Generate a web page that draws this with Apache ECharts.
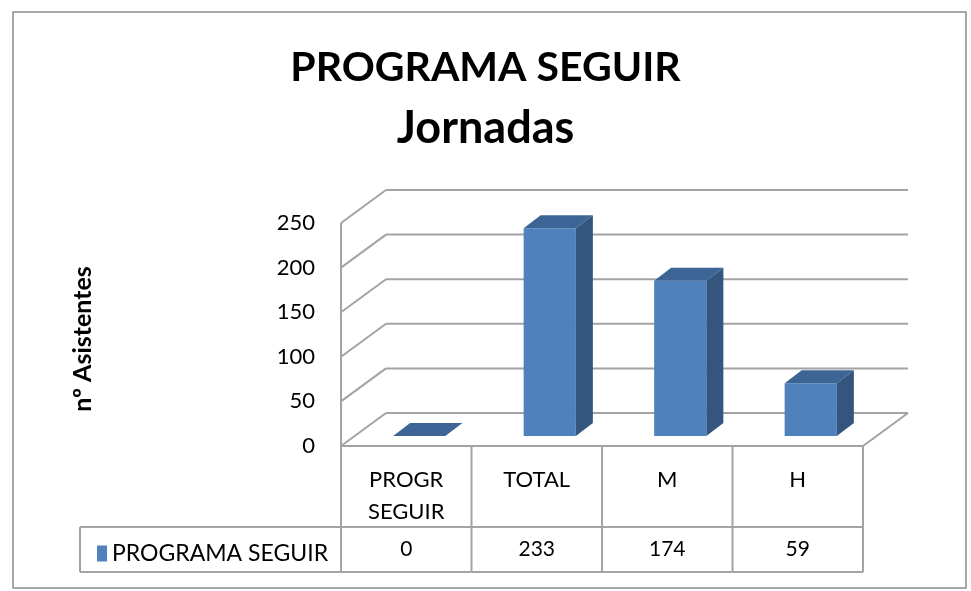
<!DOCTYPE html>
<html>
<head>
<meta charset="utf-8">
<script src="https://cdn.jsdelivr.net/npm/echarts@6/dist/echarts.min.js"></script>
<style>
  html, body { margin: 0; padding: 0; background: #fff; }
  #chart { width: 971px; height: 591px; }
</style>
</head>
<body>
<div id="chart"></div>
<script>
// Chart data
const categories = ['PROGR\nSEGUIR', 'TOTAL', 'M', 'H'];
const seriesName = 'PROGRAMA SEGUIR';
const values = [0, 233, 174, 59];
const yTicks = [0, 50, 100, 150, 200, 250];

const FONT = 'Lato';
const LINE = '#a3a3a3';
const DEPTH = [45, -33];      // floor: front edge -> back wall
const BAR_OFF = [13, -10];    // bar front face sits a bit behind the front edge
const BAR_DEPTH = [17, -13];
const HEADER_H = 81;          // data table: category row
const ROW_H = 45;             // data table: value row
const LEGEND_LEFT = 80;

const chart = echarts.init(document.getElementById('chart'));

function line(x1, y1, x2, y2) {
  return {
    type: 'line',
    shape: { x1: x1, y1: y1, x2: x2, y2: y2 },
    style: { stroke: LINE, lineWidth: 2 }
  };
}

// walls + floor, one item per tick
function renderWalls(params, api) {
  const cs = params.coordSys;
  const v = api.value(1);
  const y = api.coord([0, v])[1];
  const x0 = cs.x, x1 = cs.x + cs.width;
  const kids = [
    line(x0, y, x0 + DEPTH[0], y + DEPTH[1]),
    line(x0 + DEPTH[0], y + DEPTH[1], x1 + DEPTH[0], y + DEPTH[1])
  ];
  if (v === 0) {
    kids.push(line(x0, y, x1, y));
    kids.push(line(x1, y, x1 + DEPTH[0], y + DEPTH[1]));
    const yTop = api.coord([0, yTicks[yTicks.length - 1]])[1];
    kids.push(line(x0, yTop, x0, y));
  }
  return { type: 'group', children: kids };
}

function renderBars(params, api) {
  const i = api.value(0);
  const v = api.value(1);
  const base = api.coord([i, 0]);
  const top = api.coord([i, v]);
  const w = api.size([1, 0])[0] * 0.4;
  const l = base[0] + BAR_OFF[0] - w / 2;
  const r = l + w;
  const yb = base[1] + BAR_OFF[1];
  const yt = top[1] + BAR_OFF[1];
  const dx = BAR_DEPTH[0], dy = BAR_DEPTH[1];
  const kids = [];
  if (v > 0) {
    kids.push({
      type: 'polygon',
      shape: { points: [[l, yt], [r, yt], [r, yb], [l, yb]] },
      style: { fill: '#4f81bd' }
    });
    kids.push({
      type: 'polygon',
      shape: { points: [[r, yt], [r + dx, yt + dy], [r + dx, yb + dy], [r, yb]] },
      style: { fill: '#33557e' }
    });
  }
  kids.push({
    type: 'polygon',
    shape: { points: [[l, yt], [r, yt], [r + dx, yt + dy], [l + dx, yt + dy]] },
    style: { fill: '#3c6494' }
  });
  return { type: 'group', children: kids };
}

// data table under the plot
function renderTable(params, api) {
  const i = api.value(0);
  const v = api.value(1);
  const c = api.coord([i, 0]);
  const band = api.size([1, 0])[0];
  const l = c[0] - band / 2, r = c[0] + band / 2;
  const y0 = c[1], y1 = y0 + HEADER_H, y2 = y1 + ROW_H;
  const kids = [
    line(r, y0, r, y2),
    line(l, y1, r, y1),
    line(l, y2, r, y2),
    {
      type: 'text',
      style: {
        text: String(v), x: c[0], y: (y1 + y2) / 2,
        align: 'center', verticalAlign: 'middle',
        font: '21px ' + FONT, fill: '#000'
      }
    }
  ];
  if (i === 0) {
    kids.push(line(l, y0, l, y2));
    kids.push(line(LEGEND_LEFT, y1, l, y1));
    kids.push(line(LEGEND_LEFT, y2, l, y2));
    kids.push(line(LEGEND_LEFT, y1, LEGEND_LEFT, y2));
  }
  return { type: 'group', children: kids };
}

const option = {
  backgroundColor: '#fff',
  animation: false,
  title: [
    {
      text: 'PROGRAMA SEGUIR',
      left: 'center', top: 42,
      padding: [5, 5, 5, 13],
      textStyle: { fontFamily: FONT, fontWeight: 'bold', fontSize: 41, color: '#000' }
    },
    {
      text: 'Jornadas',
      left: 'center', top: 101,
      textStyle: { fontFamily: FONT, fontWeight: 'bold', fontSize: 45, color: '#000' }
    }
  ],
  legend: {
    data: [seriesName],
    left: 92, top: 537,
    icon: 'rect',
    itemWidth: 10, itemHeight: 16, itemGap: 6,
    selectedMode: false,
    textStyle: { fontFamily: FONT, fontSize: 23, color: '#000' }
  },
  grid: { left: 341, right: 108, top: 223, bottom: 145 },
  xAxis: {
    type: 'category',
    data: categories,
    axisLine: { show: false },
    axisTick: { show: false },
    axisLabel: {
      interval: 0, margin: 18,
      fontFamily: FONT, fontSize: 22, lineHeight: 32, color: '#000'
    }
  },
  yAxis: {
    type: 'value',
    min: 0, max: 250, interval: 50,
    name: 'nº Asistentes',
    nameLocation: 'middle',
    nameGap: 246,
    nameTextStyle: { fontFamily: FONT, fontWeight: 'bold', fontSize: 25, color: '#000', padding: [0, 9, 0, 0] },
    axisLine: { show: false },
    axisTick: { show: false },
    splitLine: { show: false },
    axisLabel: { margin: 26, fontFamily: FONT, fontSize: 22, color: '#000' }
  },
  graphic: [
    {
      type: 'rect',
      shape: { x: 13, y: 12, width: 953, height: 576 },
      style: { fill: 'none', stroke: '#8c8c8c', lineWidth: 1.5 },
      z: -1
    }
  ],
  series: [
    {
      type: 'custom',
      name: 'walls',
      renderItem: renderWalls,
      data: yTicks.map(v => [0, v]),
      silent: true,
      z: 1
    },
    {
      type: 'custom',
      name: seriesName,
      renderItem: renderBars,
      itemStyle: { color: '#4f81bd' },
      data: values.map((v, i) => [i, v]),
      z: 3
    },
    {
      type: 'custom',
      name: 'table',
      renderItem: renderTable,
      data: values.map((v, i) => [i, v]),
      silent: true,
      z: 1
    }
  ]
};

chart.setOption(option);
window.addEventListener('resize', () => chart.resize());
</script>
</body>
</html>
